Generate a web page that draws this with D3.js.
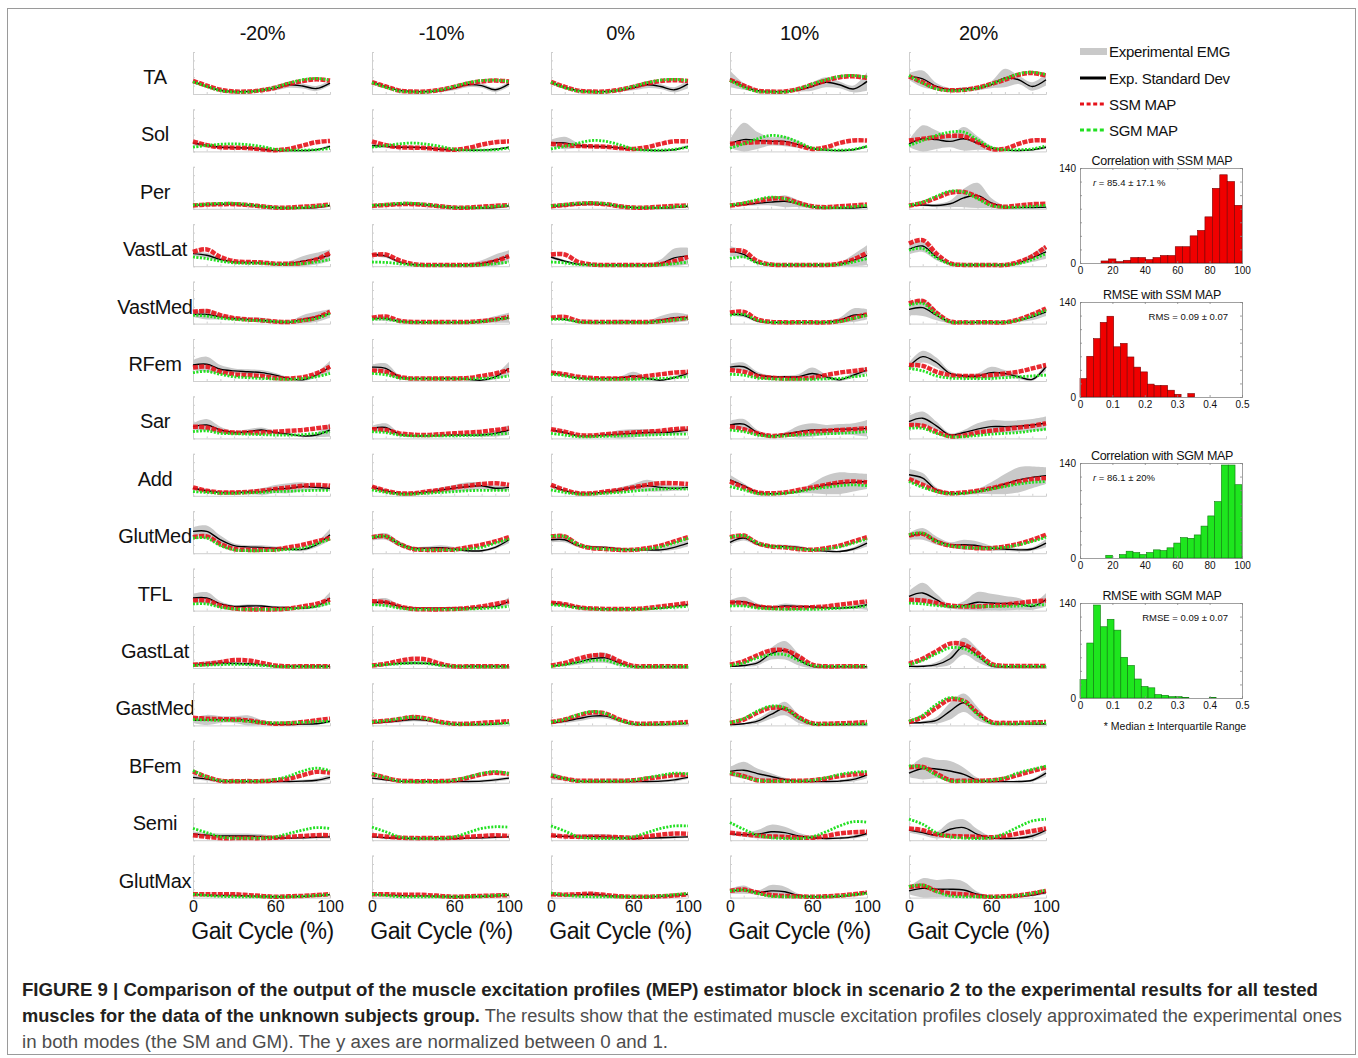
<!DOCTYPE html>
<html lang="en">
<head>
<meta charset="UTF-8">
<title>MEP estimator vs experimental EMG</title>
<script src="https://cdn.jsdelivr.net/npm/d3@7"></script>
<style>
    body{ margin:0; background:#fff; }
    svg{ display:block; font-family:"Liberation Sans", Arial, Helvetica, sans-serif; }
    .panelAxis path, .panelAxis line{ stroke:#cfcfcf; stroke-width:1; }
    .band{ fill:#c9c9c9; stroke:none; }
    .expLine{ fill:none; stroke:#000; stroke-width:1.4; }
    .ssmLine{ fill:none; stroke:#e6121a; stroke-width:4.5; stroke-dasharray:5 1.2; opacity:.9; }
    .sgmLine{ fill:none; stroke:#22e022; stroke-width:2.8; stroke-dasharray:2 1.5; }
    .rowLabel, .colLabel{ font-size:20px; fill:#111; letter-spacing:-0.3px; }
    .gaitAxis text{ font-size:16px; fill:#111; }
    .gaitLabel{ font-size:23px; fill:#111; letter-spacing:-0.4px; }
    .legend text{ font-size:15px; fill:#111; letter-spacing:-0.3px; }
    .hist .axis path, .hist .axis line{ stroke:#888; stroke-width:.8; }
    .hist .axis text{ font-size:10px; fill:#111; }
    .histTitle{ font-size:12.5px; fill:#111; letter-spacing:-0.3px; }
    .histStat{ font-size:9.5px; fill:#111; }
    .caption{ font-size:18px; }
</style>
</head>
<body>
<script>

    // ---------- data ----------
    const muscles = ["TA","Sol","Per","VastLat","VastMed","RFem","Sar","Add","GlutMed","TFL","GastLat","GastMed","BFem","Semi","GlutMax"];
    const speeds = ["-20%","-10%","0%","10%","20%"];
    const gaitPct = [0,10,20,30,40,50,60,70,80,90,100];

    // values in % of the normalised excitation, one row per muscle, one list per speed
    const expMean = [
        [[30,18,9,6,6,9,14,22,19,13,26],[28,18,9,6,6,8,14,22,20,10,24],[28,16,8,6,6,9,15,22,18,10,24],[36,18,8,6,6,10,18,28,22,12,30],[42,36,18,10,12,14,22,38,34,18,34]],
        [[20,14,10,9,8,5,2,2,2,4,12],[14,12,10,10,8,5,3,3,3,5,10],[20,20,14,12,11,8,5,3,2,4,12],[18,28,26,24,24,16,7,3,2,4,12],[18,30,28,24,30,20,8,3,2,4,10]],
        [[8,10,11,11,9,6,3,2,2,3,8],[8,9,11,11,9,5,3,2,2,3,7],[6,8,11,12,10,6,3,2,2,3,6],[8,10,13,16,18,12,5,2,2,2,4],[8,9,8,12,26,32,14,4,3,3,4]],
        [[30,26,16,10,9,8,5,6,12,18,26],[28,24,10,4,3,3,3,3,6,14,24],[22,12,5,4,3,3,3,3,6,20,24],[36,28,8,4,3,3,3,3,5,14,26],[40,48,22,6,3,3,3,3,8,20,34]],
        [[22,22,16,12,10,8,4,3,10,16,24],[12,12,6,4,3,3,3,3,5,10,14],[12,10,4,3,3,3,4,3,8,14,14],[22,20,6,3,3,3,3,3,8,20,22],[34,38,20,4,3,3,3,3,8,16,28]],
        [[38,40,28,24,22,20,14,6,3,14,34],[33,30,10,6,6,6,6,4,2,10,30],[20,14,7,6,6,7,12,6,2,8,18],[33,34,16,10,10,10,18,10,3,14,26],[34,58,44,18,12,12,20,18,10,4,34]],
        [[28,32,20,14,16,20,14,10,6,8,20],[24,26,10,6,6,7,8,8,8,12,20],[20,14,6,6,8,10,12,14,14,16,20],[32,34,14,6,10,16,20,20,22,22,24],[40,48,30,8,14,22,28,28,29,32,36]],
        [[18,12,8,8,9,10,16,18,22,20,18],[22,12,6,6,9,14,18,22,24,18,20],[24,12,6,6,9,14,20,24,20,18,20],[38,24,8,5,6,10,18,26,30,32,34],[50,42,14,6,6,10,18,28,38,44,48]],
        [[52,52,32,18,15,14,12,10,9,20,44],[36,40,22,12,12,13,10,6,6,14,32],[32,32,18,15,14,10,8,8,8,14,24],[26,36,22,17,16,14,8,5,4,10,24],[40,46,30,20,20,18,12,10,8,10,24]],
        [[30,30,16,10,11,11,8,7,6,10,30],[19,20,10,6,6,6,6,6,8,10,22],[18,14,8,5,4,4,4,4,6,10,14],[19,21,12,8,11,10,9,7,6,8,14],[34,42,26,9,12,20,18,17,16,10,26]],
        [[8,10,12,11,10,8,4,4,4,4,4],[6,8,11,12,11,7,4,4,4,4,4],[5,8,14,22,24,12,4,3,3,3,3],[4,6,12,34,42,20,4,3,3,3,3],[4,4,8,22,52,30,5,3,3,3,3]],
        [[12,13,14,14,12,7,3,2,3,4,10],[6,8,11,14,12,6,3,2,2,3,6],[6,10,16,22,22,12,3,2,2,3,5],[2,4,10,26,40,16,3,2,2,2,2],[6,7,12,34,54,28,5,3,3,3,4]],
        [[13,9,4,3,3,3,3,3,4,6,13],[11,7,4,3,3,3,3,3,4,7,11],[16,10,4,3,3,3,3,3,4,7,13],[27,30,22,15,8,4,3,3,4,8,19],[23,34,33,28,20,6,3,3,3,6,23]],
        [[15,12,10,10,10,9,6,5,6,7,8],[8,6,5,4,4,4,4,5,6,7,8],[10,9,9,9,8,6,4,5,6,7,8],[15,13,14,20,18,10,6,4,5,8,16],[24,18,12,26,30,14,5,4,5,10,24]],
        [[7,6,5,5,4,3,2,2,3,4,7],[7,6,5,4,4,3,2,2,3,4,6],[7,6,7,8,5,3,2,2,3,5,8],[15,19,12,16,14,5,2,2,3,6,12],[16,22,20,20,18,8,2,2,3,6,12]]
    ];

    const expSd = [
        [[4,3,3,2,2,3,5,7,6,6,6],[4,3,2,2,2,3,5,6,5,5,6],[5,3,2,2,2,3,6,8,6,6,10],[20,8,3,2,2,4,10,12,8,8,22],[8,20,8,4,4,5,8,22,10,10,14]],
        [[6,4,3,3,3,2,2,2,2,2,4],[5,4,3,3,3,2,2,2,2,2,3],[8,15,6,4,3,3,2,2,2,2,4],[10,40,20,10,12,8,3,2,2,2,4],[8,32,22,14,28,16,5,2,2,2,4]],
        [[3,3,3,3,3,2,2,2,2,2,3],[3,3,3,3,3,2,2,2,2,2,3],[3,3,4,4,3,2,2,2,2,2,3],[3,3,5,8,14,8,3,2,2,2,3],[3,3,4,8,22,30,12,4,2,2,3]],
        [[5,6,4,3,3,3,3,6,12,14,14],[4,4,3,2,2,2,2,3,8,14,14],[4,3,2,2,2,2,2,2,10,22,20],[12,8,3,2,2,2,2,2,4,14,24],[12,14,8,3,2,2,2,2,4,10,16]],
        [[6,12,6,4,4,6,3,3,10,12,10],[4,6,3,2,2,2,2,2,4,8,12],[3,3,2,2,2,6,4,3,10,12,8],[4,5,3,2,2,2,2,2,6,16,12],[14,20,12,3,2,2,2,2,4,8,10]],
        [[12,18,10,6,6,6,5,3,3,6,14],[6,12,4,2,2,2,2,2,2,6,16],[4,4,2,2,2,3,10,4,2,4,6],[8,10,6,3,3,6,14,6,3,6,8],[10,14,12,6,4,6,14,8,5,3,10]],
        [[8,14,8,4,6,6,4,3,3,5,16],[6,10,4,2,2,3,3,3,4,8,12],[4,3,2,2,4,10,10,8,6,6,6],[10,12,6,3,4,14,16,12,12,14,20],[14,16,10,4,6,14,16,14,14,14,16]],
        [[4,3,2,3,4,8,10,12,10,6,6],[4,3,2,2,3,6,8,10,8,6,6],[4,3,2,2,3,6,8,14,10,6,6],[12,6,3,2,2,4,12,22,26,22,18],[14,12,6,3,3,6,14,24,30,26,20]],
        [[10,14,10,5,4,5,4,4,4,6,14],[6,8,6,4,4,6,5,3,3,4,8],[6,6,4,3,3,3,3,3,4,6,8],[6,6,4,3,4,4,3,2,2,4,8],[8,14,10,6,12,10,6,4,4,4,10]],
        [[10,14,6,3,4,3,3,3,3,4,14],[6,10,4,2,2,2,2,2,3,4,10],[6,4,3,2,2,2,2,2,2,3,4],[6,12,5,3,6,4,3,3,3,4,12],[12,24,14,5,10,24,22,18,14,8,16]],
        [[4,6,6,4,4,3,2,2,2,2,2],[3,3,4,4,4,3,2,2,2,2,2],[2,3,6,10,12,6,2,2,2,2,2],[2,3,6,14,22,14,4,2,2,2,2],[2,2,6,14,20,16,4,2,2,2,2]],
        [[6,12,8,8,12,6,3,2,2,2,4],[3,3,4,4,4,3,2,2,2,2,2],[3,4,6,6,6,4,2,2,2,2,2],[2,2,6,10,16,10,3,2,2,2,2],[3,3,8,20,22,16,4,2,2,2,2]],
        [[6,4,3,2,2,2,2,2,3,4,6],[4,3,2,2,2,2,2,2,3,4,4],[10,4,2,2,2,2,2,2,3,4,4],[10,20,12,8,4,2,2,2,3,5,8],[10,26,22,24,16,6,3,2,2,3,8]],
        [[6,6,6,6,6,5,4,3,3,3,4],[3,3,3,3,3,3,3,3,3,3,3],[3,3,4,6,6,4,3,3,3,3,3],[4,5,10,17,14,8,4,3,3,4,6],[6,6,8,18,20,12,4,3,3,6,8]],
        [[2,2,2,2,2,2,2,2,2,2,2],[2,2,2,2,2,2,2,2,2,2,2],[2,2,3,5,3,2,2,2,2,2,2],[6,10,5,14,12,4,2,2,2,3,4],[8,24,22,24,20,6,2,2,2,3,4]]
    ];

    const ssmMap = [
        [[31,20,10,6,6,9,15,24,31,35,32],[28,18,8,6,6,10,17,25,30,32,30],[29,17,8,6,6,10,17,25,31,33,31],[34,20,8,6,6,12,22,32,40,42,38],[42,28,14,9,10,15,24,34,46,50,44]],
        [[24,15,10,9,8,5,3,6,14,22,25],[24,15,10,9,8,5,4,8,16,22,24],[18,15,13,12,11,8,6,10,18,24,24],[18,20,22,22,20,14,6,10,20,26,26],[26,30,34,37,36,22,6,6,18,26,26]],
        [[8,10,11,11,9,6,3,3,5,7,10],[7,9,11,11,9,6,3,3,5,7,9],[6,9,12,13,11,6,3,3,5,7,8],[8,12,18,24,24,14,6,4,6,8,10],[8,14,26,38,40,28,10,5,8,11,12]],
        [[34,40,22,12,10,9,6,6,8,16,32],[26,28,14,5,3,3,3,3,5,12,24],[28,28,10,4,3,3,3,3,5,12,22],[37,36,12,4,3,3,3,3,6,16,32],[54,62,30,7,3,3,3,3,10,24,46]],
        [[28,30,20,13,10,8,5,4,8,14,28],[14,17,7,4,4,4,4,4,6,10,16],[14,16,6,4,4,4,4,4,6,10,14],[26,28,10,4,3,3,3,3,6,14,22],[48,54,26,5,3,3,3,3,10,22,36]],
        [[32,34,22,16,14,12,7,6,9,18,34],[25,22,10,6,6,6,6,7,12,18,26],[20,16,10,7,6,6,8,12,16,20,22],[26,22,12,8,6,6,8,14,20,24,28],[38,36,22,14,12,12,14,18,22,30,38]],
        [[28,26,18,14,14,14,16,18,20,24,28],[22,20,12,9,8,10,12,14,16,20,24],[22,16,8,7,10,12,14,16,18,22,24],[28,22,12,6,8,12,16,18,20,22,24],[32,30,16,5,7,14,18,22,26,30,36]],
        [[20,12,8,8,9,12,16,20,24,26,24],[22,12,6,6,10,14,20,24,28,30,26],[26,14,6,6,10,14,20,26,30,30,28],[34,20,8,6,8,14,20,26,32,34,32],[40,26,12,6,8,12,18,26,34,40,42]],
        [[38,40,22,10,8,8,9,14,20,28,36],[38,40,22,10,8,8,9,14,20,28,38],[40,40,20,12,10,8,8,12,18,28,38],[38,42,24,16,14,10,8,12,18,28,38],[42,46,28,18,15,12,12,16,22,32,44]],
        [[24,24,12,5,3,3,3,5,10,16,26],[22,20,10,4,3,3,4,6,10,16,22],[19,15,8,5,4,4,4,6,10,14,18],[19,18,10,7,6,7,8,10,14,18,22],[26,24,18,12,10,10,12,14,18,22,24]],
        [[8,10,14,19,18,12,6,4,4,4,4],[6,10,17,22,20,10,4,4,4,4,4],[6,12,22,30,30,16,5,4,4,4,4],[8,16,30,42,42,28,8,4,4,4,4],[10,22,40,58,56,36,10,5,5,5,5]],
        [[18,16,15,14,12,7,4,5,8,12,16],[8,11,15,20,16,8,4,4,6,8,10],[8,14,24,31,28,14,5,4,5,6,8],[6,14,30,42,40,20,5,4,5,6,8],[8,20,42,62,58,30,8,6,6,7,8]],
        [[27,14,5,4,4,4,6,10,18,26,24],[21,12,5,4,4,4,6,12,20,24,21],[17,10,5,5,5,5,6,10,14,18,19],[23,16,6,5,5,5,6,10,16,20,23],[37,38,22,6,5,5,6,10,19,28,37]],
        [[12,8,5,5,5,5,6,8,10,12,12],[12,9,6,5,5,5,6,8,10,12,10],[12,9,8,8,8,7,6,9,13,16,15],[18,14,11,9,8,6,6,10,16,19,20],[28,24,14,10,9,8,7,10,16,22,28]],
        [[8,8,8,8,6,4,2,3,4,6,8],[8,8,7,7,6,4,2,3,4,5,6],[8,7,8,9,6,3,2,2,3,5,8],[16,19,12,6,4,3,2,3,5,8,12],[25,28,16,10,8,4,2,3,5,10,16]]
    ];

    const sgmMap = [
        [[29,18,8,5,5,9,16,26,34,37,33],[27,16,7,5,5,10,18,27,32,33,30],[28,15,7,5,5,10,18,27,33,35,32],[32,16,6,5,5,12,24,34,42,44,40],[44,26,12,8,9,14,24,36,48,52,46]],
        [[10,14,17,18,16,12,5,3,3,4,7],[10,14,18,20,17,12,5,3,3,4,8],[6,12,20,26,24,16,6,3,3,5,10],[8,18,30,38,34,22,8,4,3,5,12],[14,26,38,46,46,28,10,4,4,6,13]],
        [[9,11,13,13,10,6,3,2,3,6,9],[8,10,13,13,10,6,3,3,3,6,8],[7,10,13,14,12,6,3,3,3,5,7],[9,14,22,28,24,12,5,3,3,5,8],[8,16,30,42,40,24,8,4,4,6,8]],
        [[22,18,12,8,7,7,5,5,6,10,16],[10,9,6,3,2,2,2,2,3,6,10],[10,8,4,3,2,2,2,2,3,6,10],[18,22,8,4,3,3,3,3,4,10,18],[38,42,20,5,3,3,3,3,6,16,30]],
        [[20,18,13,10,8,7,5,4,7,12,24],[10,11,5,3,3,3,3,3,5,9,14],[10,10,4,3,3,3,3,3,5,9,12],[20,22,8,3,3,3,3,3,5,12,20],[44,48,22,4,3,3,3,3,8,18,32]],
        [[20,23,16,10,8,6,5,4,6,10,18],[18,15,7,5,5,5,5,5,6,8,12],[16,12,6,4,4,4,4,5,6,8,10],[16,14,7,5,4,4,4,5,6,10,14],[30,24,12,7,6,6,6,8,10,12,14]],
        [[16,18,12,11,10,9,8,8,9,12,16],[16,14,8,6,6,6,6,7,8,10,12],[12,8,4,4,5,6,7,8,9,10,10],[20,16,8,5,6,8,10,11,12,14,16],[24,24,12,4,4,7,10,12,14,18,22]],
        [[10,8,6,6,7,8,10,11,12,13,13],[14,8,4,4,6,8,10,12,13,13,13],[14,8,4,4,6,8,11,14,16,17,16],[22,14,5,4,6,10,16,20,24,26,24],[34,20,10,5,6,10,16,22,28,32,34]],
        [[36,36,18,8,6,6,7,9,12,22,34],[38,40,22,10,8,8,8,10,14,24,34],[40,40,20,12,10,8,8,10,15,24,36],[38,42,24,16,14,10,8,10,15,24,34],[44,48,28,18,14,12,12,14,20,28,38]],
        [[16,16,8,4,3,3,3,4,7,10,18],[14,12,6,3,3,3,3,4,5,7,10],[14,11,6,4,3,3,3,4,6,8,10],[11,11,6,4,3,3,3,4,6,8,11],[18,16,12,10,10,10,10,10,11,13,14]],
        [[6,7,8,9,8,6,4,3,3,3,3],[6,8,10,12,11,6,4,3,3,3,3],[4,8,14,18,18,8,3,3,3,3,3],[6,12,24,32,32,18,6,4,4,4,4],[8,18,34,48,46,28,8,4,4,4,4]],
        [[14,13,12,12,10,7,6,6,7,9,10],[8,11,16,20,15,7,3,3,3,4,6],[8,14,26,33,28,12,4,3,3,4,6],[6,16,34,46,42,18,4,3,3,3,4],[10,24,50,66,58,26,6,4,4,5,6]],
        [[29,14,5,4,4,4,8,16,28,35,29],[21,12,4,3,3,3,6,14,22,27,22],[19,10,4,4,4,4,6,12,18,23,21],[24,14,6,4,4,4,6,12,20,25,27],[40,37,18,5,4,4,6,12,24,32,40]],
        [[28,18,8,5,5,5,8,16,24,30,28],[31,20,8,4,4,4,8,18,28,32,31],[34,22,8,4,4,4,8,18,28,34,34],[42,26,12,6,4,4,8,20,34,44,43],[50,38,18,8,5,4,6,16,32,46,50]],
        [[8,5,3,2,2,2,2,2,3,5,7],[8,5,2,2,2,2,2,2,3,5,7],[11,6,3,2,2,2,2,2,4,7,10],[16,18,10,3,2,2,2,2,4,7,10],[26,30,14,4,2,2,2,2,5,10,18]]
    ];

    // histograms: bin start, bin width, counts
    const corrSsmStart = 13, corrSsmWidth = 4.58;
    const corrSsmCounts = [3,6,2,4,8,8,5,8,11,11,24,24,40,48,68,110,130,120,85];
    const rmseSsmStart = 0, rmseSsmWidth = 0.0208;
    const rmseSsmCounts = [27,60,86,110,119,74,79,59,44,37,19,17,17,10,4,0,5];
    const corrSgmStart = 15.9, corrSgmWidth = 4.2;
    const corrSgmCounts = [4,0,5,10,8,5,8,12,11,15,22,30,29,34,47,62,83,137,137,108];
    const rmseSgmStart = 0, rmseSgmWidth = 0.021;
    const rmseSgmCounts = [27,81,137,105,116,100,60,48,28,17,15,5,4,2,2,1,0,0,0,1];

    const width = 1358, height = 1058;
    const svg = d3.select("body").append("svg")
        .attr("width", width).attr("height", height)
        .attr("viewBox", `0,0,${width},${height}`);

    // frame of the figure
    svg.append("rect")
        .attr("x", 7.5).attr("y", 8.5)
        .attr("width", 1348).attr("height", 1046)
        .attr("fill", "none").attr("stroke", "#9a9a9a").attr("stroke-width", 1);

    // ---------- small multiples ----------
    const colScale = d3.scaleBand().domain(speeds).range([193, 1046]).paddingInner(0.2346);
    const rowScale = d3.scaleBand().domain(muscles).range([52, 897.6]).paddingInner(0.268);

    const xPanel = d3.scaleLinear().domain([0, 100]).range([0, colScale.bandwidth()]);
    const yPanel = d3.scaleLinear().domain([0, 100]).range([rowScale.bandwidth(), 0]);

    svg.append("clipPath").attr("id", "panelClip")
        .append("rect")
        .attr("x", -1).attr("y", -4)
        .attr("width", colScale.bandwidth() + 2).attr("height", rowScale.bandwidth() + 6);

    const lineGen = d3.line()
        .x((d, i) => xPanel(gaitPct[i]))
        .y(d => yPanel(d))
        .curve(d3.curveCatmullRom.alpha(0.5));

    const bandGen = d3.area()
        .x(d => xPanel(d.pct))
        .y0(d => yPanel(Math.max(0, d.m - d.s)))
        .y1(d => yPanel(d.m + d.s))
        .curve(d3.curveCatmullRom.alpha(0.5));

    // column headers
    svg.append("g").selectAll("text")
        .data(speeds)
        .enter().append("text")
        .attr("class", "colLabel")
        .attr("x", d => colScale(d) + colScale.bandwidth() / 2 + 1)
        .attr("y", 40)
        .attr("text-anchor", "middle")
        .text(d => d);

    // row labels
    svg.append("g").selectAll("text")
        .data(muscles)
        .enter().append("text")
        .attr("class", "rowLabel")
        .attr("x", 155)
        .attr("y", d => rowScale(d) + 32)
        .attr("text-anchor", "middle")
        .text(d => d);

    muscles.forEach((mus, mi) => {
        speeds.forEach((sp, si) => {
            const g = svg.append("g")
                .attr("transform", `translate(${colScale(sp)},${rowScale(mus)})`);

            // light axes of each panel
            g.append("g").attr("class", "panelAxis")
                .attr("transform", `translate(0,${rowScale.bandwidth()})`)
                .call(d3.axisBottom(xPanel).tickValues(gaitPct).tickSize(-2).tickFormat(""));
            g.append("g").attr("class", "panelAxis")
                .call(d3.axisLeft(yPanel).tickValues([0,20,40,60,80,100]).tickSize(-2).tickFormat(""));

            const plot = g.append("g").attr("clip-path", "url(#panelClip)");
            const mean = expMean[mi][si], sd = expSd[mi][si];

            plot.append("path")
                .attr("class", "band")
                .attr("d", bandGen(mean.map((m, i) => ({pct: gaitPct[i], m: m, s: sd[i]}))));
            plot.append("path").attr("class", "expLine").attr("d", lineGen(mean));
            plot.append("path").attr("class", "ssmLine").attr("d", lineGen(ssmMap[mi][si]));
            plot.append("path").attr("class", "sgmLine").attr("d", lineGen(sgmMap[mi][si]));
        });
    });

    // gait cycle axis under the last row
    const lastRow = muscles[muscles.length - 1];
    speeds.forEach(sp => {
        const ax = svg.append("g")
            .attr("class", "gaitAxis")
            .attr("transform", `translate(${colScale(sp)},${rowScale(lastRow) + rowScale.bandwidth()})`)
            .call(d3.axisBottom(xPanel).tickValues([0, 60, 100]).tickSize(0).tickPadding(3));
        ax.select(".domain").remove();

        svg.append("text")
            .attr("class", "gaitLabel")
            .attr("x", colScale(sp) + colScale.bandwidth() / 2 + 1)
            .attr("y", 939)
            .attr("text-anchor", "middle")
            .text("Gait Cycle (%)");
    });

    // ---------- legend ----------
    const legend = svg.append("g").attr("class", "legend");
    legend.append("rect").attr("x", 1080).attr("y", 48).attr("width", 27).attr("height", 7).attr("fill", "#c9c9c9");
    legend.append("line").attr("x1", 1080).attr("x2", 1106).attr("y1", 78).attr("y2", 78)
        .attr("stroke", "#000").attr("stroke-width", 3);
    legend.append("line").attr("x1", 1080).attr("x2", 1106).attr("y1", 104).attr("y2", 104)
        .attr("stroke", "#e6121a").attr("stroke-width", 3).attr("stroke-dasharray", "4 2.6");
    legend.append("line").attr("x1", 1080).attr("x2", 1106).attr("y1", 130).attr("y2", 130)
        .attr("stroke", "#22e022").attr("stroke-width", 3).attr("stroke-dasharray", "4 2.6");
    [["Experimental EMG", 57], ["Exp. Standard Dev", 84], ["SSM MAP", 110], ["SGM MAP", 136]].forEach(t => {
        legend.append("text").attr("x", 1109).attr("y", t[1]).text(t[0]);
    });

    // ---------- histograms ----------
    function drawHist(cfg) {
        const hx = d3.scaleLinear().domain(cfg.domain).range([1080, 1242]);
        const hy = d3.scaleLinear().domain([0, 140]).range([cfg.top + 95, cfg.top]);
        const g = svg.append("g").attr("class", "hist");

        const bins = cfg.counts.map((c, i) => ({x0: cfg.start + i * cfg.binW, x1: cfg.start + (i + 1) * cfg.binW, n: c}));
        g.selectAll("rect")
            .data(bins.filter(b => b.n > 0))
            .enter().append("rect")
            .attr("x", d => hx(d.x0))
            .attr("width", d => hx(d.x1) - hx(d.x0))
            .attr("y", d => hy(d.n))
            .attr("height", d => hy(0) - hy(d.n))
            .attr("fill", cfg.fill)
            .attr("stroke", cfg.stroke)
            .attr("stroke-width", 0.6);

        const yTicks = d3.range(0, 141, 20);
        g.append("g").attr("class", "axis")
            .attr("transform", `translate(1080,0)`)
            .call(d3.axisLeft(hy).tickValues(yTicks).tickSize(-2).tickPadding(4)
                .tickFormat(d => (d === 0 || d === 140) ? d : ""));
        g.append("g").attr("class", "axis")
            .attr("transform", `translate(1242,0)`)
            .call(d3.axisRight(hy).tickValues(yTicks).tickSize(-2).tickFormat(""));
        g.append("g").attr("class", "axis")
            .attr("transform", `translate(0,${cfg.top + 95})`)
            .call(d3.axisBottom(hx).tickValues(cfg.ticks).tickSize(-2).tickPadding(4).tickFormat(cfg.fmt));
        g.append("g").attr("class", "axis")
            .attr("transform", `translate(0,${cfg.top})`)
            .call(d3.axisTop(hx).tickValues(cfg.ticks).tickSize(-2).tickFormat(""));

        g.append("text")
            .attr("class", "histTitle")
            .attr("x", 1162).attr("y", cfg.top - 3)
            .attr("text-anchor", "middle")
            .text(cfg.title);

        const st = g.append("text")
            .attr("class", "histStat")
            .attr("x", cfg.statAnchor === "start" ? 1093 : 1228)
            .attr("y", cfg.top + 18)
            .attr("text-anchor", cfg.statAnchor);
        if (cfg.italicR) {
            st.append("tspan").attr("font-style", "italic").text("r");
            st.append("tspan").text(cfg.stat);
        } else {
            st.text(cfg.stat);
        }
    }

    const corrTicks = [0,20,40,60,80,100];
    const rmseTicks = [0,0.1,0.2,0.3,0.4,0.5];
    const rmseFmt = d => d === 0 ? "0" : d3.format(".1f")(d);

    drawHist({top: 168, domain: [0,100], start: corrSsmStart, binW: corrSsmWidth, counts: corrSsmCounts,
        ticks: corrTicks, fmt: d3.format("d"), fill: "#f00000", stroke: "#7a0000",
        title: "Correlation with SSM MAP", stat: " = 85.4 \u00b1 17.1 %", italicR: true, statAnchor: "start"});
    drawHist({top: 302, domain: [0,0.5], start: rmseSsmStart, binW: rmseSsmWidth, counts: rmseSsmCounts,
        ticks: rmseTicks, fmt: rmseFmt, fill: "#f00000", stroke: "#7a0000",
        title: "RMSE with SSM MAP", stat: "RMS = 0.09 \u00b1 0.07", italicR: false, statAnchor: "end"});
    drawHist({top: 463, domain: [0,100], start: corrSgmStart, binW: corrSgmWidth, counts: corrSgmCounts,
        ticks: corrTicks, fmt: d3.format("d"), fill: "#1ee61e", stroke: "#0d7a0d",
        title: "Correlation with SGM MAP", stat: " = 86.1 \u00b1 20%", italicR: true, statAnchor: "start"});
    drawHist({top: 603, domain: [0,0.5], start: rmseSgmStart, binW: rmseSgmWidth, counts: rmseSgmCounts,
        ticks: rmseTicks, fmt: rmseFmt, fill: "#1ee61e", stroke: "#0d7a0d",
        title: "RMSE with SGM MAP", stat: "RMSE = 0.09 \u00b1 0.07", italicR: false, statAnchor: "end"});

    svg.append("text")
        .attr("class", "histStat")
        .attr("x", 1175).attr("y", 730)
        .attr("text-anchor", "middle")
        .style("font-size", "10.5px")
        .text("* Median \u00b1 Interquartile Range");

    // ---------- caption ----------
    svg.append("text").attr("class", "caption")
        .attr("x", 22).attr("y", 996)
        .attr("textLength", 1296).attr("lengthAdjust", "spacingAndGlyphs")
        .attr("font-weight", "bold").attr("fill", "#231f20")
        .text("FIGURE 9 | Comparison of the output of the muscle excitation profiles (MEP) estimator block in scenario 2 to the experimental results for all tested");
    const cap2 = svg.append("text").attr("class", "caption")
        .attr("x", 22).attr("y", 1022)
        .attr("textLength", 1320).attr("lengthAdjust", "spacingAndGlyphs");
    cap2.append("tspan").attr("font-weight", "bold").attr("fill", "#231f20")
        .text("muscles for the data of the unknown subjects group.");
    cap2.append("tspan").attr("fill", "#4d4d4d")
        .text(" The results show that the estimated muscle excitation profiles closely approximated the experimental ones");
    svg.append("text").attr("class", "caption")
        .attr("x", 22).attr("y", 1048)
        .attr("textLength", 646).attr("lengthAdjust", "spacingAndGlyphs")
        .attr("fill", "#4d4d4d")
        .text("in both modes (the SM and GM). The y axes are normalized between 0 and 1.");

</script>
</body>
</html>
